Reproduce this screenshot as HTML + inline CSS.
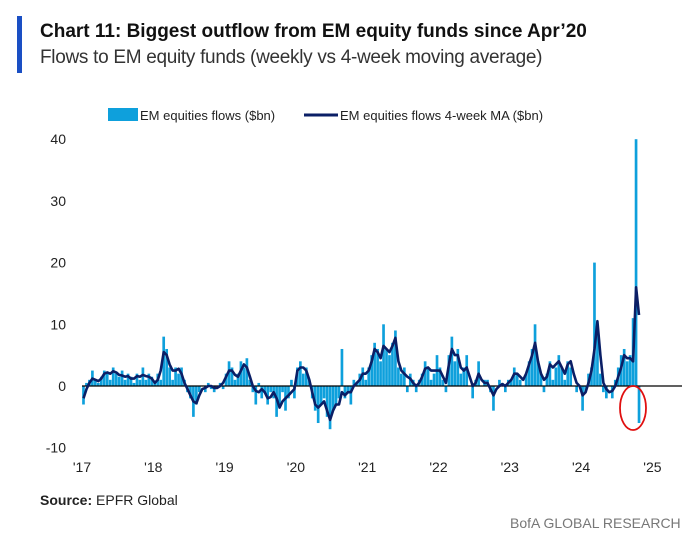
<!DOCTYPE html>
<html><head><meta charset="utf-8"><style>
body{margin:0;background:#fff;font-family:"Liberation Sans",sans-serif;}
#wrap{position:relative;width:695px;height:546px;overflow:hidden;background:#fff}
.t{position:absolute;white-space:nowrap}
</style></head><body>
<div id="wrap">
<div class="t" style="left:17px;top:16px;width:5px;height:57px;background:#1a4fc4"></div>
<div class="t" style="left:40px;top:21px;font-size:19px;font-weight:bold;color:#111;letter-spacing:0px">Chart 11: Biggest outflow from EM equity funds since Apr’20</div>
<div class="t" style="left:40px;top:47px;font-size:19px;color:#333;letter-spacing:-0.3px">Flows to EM equity funds (weekly vs 4-week moving average)</div>
<div class="t" style="left:40px;top:492px;font-size:14px;color:#222"><b>Source:</b> EPFR Global</div>
<div class="t" style="left:510px;top:515px;font-size:14px;color:#777">BofA GLOBAL RESEARCH</div>
<svg id="chart" width="695" height="546" style="position:absolute;left:0;top:0"></svg>
</div>
<script>
const years=["'17","'18","'19","'20","'21","'22","'23","'24","'25"];
const yTicks=[-10,0,10,20,30,40];
const flows=[-3,0.5,1,2.5,1,0.5,1.5,2.5,2,1,3,2,1.5,2.5,1,2,1.5,0.5,2,1,3,1,2,1.5,
0.5,2,1,8,6,3,1,3,2,3,1,-1,-2,-5,-3,-1,0,-1,0.5,-0.5,-1,0,0.5,-0.5,
2,4,3,1,2,4,3,4.5,1,-1,-3,0.5,-2,-1,-3,-1,-2,-5,-3,-1,-4,-2,1,-2,
3,4,2,3,1,-2,-4,-6,-3,-2,-5,-7,-4,-3,-2,6,-2,-1,-3,1,0.5,2,3,1,
3,5,7,6,4,10,6,5,7,9,3,2,3,-1,2,1,-1,1,2,4,3,1,2,5,
3,1,-1,5,8,4,6,2,3,5,0,-2,1,4,0,1,1,-1,-4,0,1,0.5,-1,1,
1,3,2,1,0,2,4,6,10,4,2,-1,2,4,1,3,5,3,1,4,3,0,-1,0,
-4,-1,2,3,20,9,2,-1,-2,0,-2,1,3,5,6,4,5,11,40,-6];
const ma=[-2,-0.5,0.5,1.2,1,0.8,1.2,2,2.2,2,2.4,2.2,1.8,1.7,1.5,1.6,1.2,1.2,1.6,1.5,1.8,1.6,1.5,1.2,
0.5,1,2.5,5.5,5,3.5,2.5,2.5,2.8,2,0.5,-0.5,-1.5,-2.5,-2.8,-1.5,-0.5,-0.3,0,0,-0.3,-0.3,0,0.5,
1.5,2.5,2.5,1.8,1.5,2.5,3.5,3,1.5,0,-0.8,-1,-0.5,-1,-2,-1.8,-1,-2,-3.5,-2.5,-2,-1.5,-1,-0.5,
2.5,3,3,2.5,1,-1,-3,-3.5,-3,-2.5,-4,-5.5,-4,-3,-3,-1,-1.5,-1,-1,0,0.5,1,2,2,
2.5,4,6,5.5,4.5,6.5,6,5.5,6.5,7.8,4,2.5,2,1.5,1.2,0.5,0,0.5,1.5,2.8,3,2.5,2.5,2.5,
2.5,1.5,0.5,3.5,6,5,5,3,2.5,3,1.5,0,0.5,2,1,0.5,0.5,-0.5,-1.5,-0.5,0,0.3,0,0.5,
1,2,2,1.5,1,2,3.5,5,7,4,2,1,1.5,3.5,3,3.5,4,3,2,3.5,4,2,0.5,0,
-1.5,-1,0.5,2.5,6,10.5,5,0.5,-0.5,-1,-0.8,0,1.5,3,5,4.5,4.5,4,16,11.5];
const NS="http://www.w3.org/2000/svg";
const svg=document.getElementById('chart');
const x0=82,yrW=71.3,perYr=24;
const xS=t=>x0+t*yrW;
const yS=v=>386-v*6.17;
function mk(tag,attrs){const e=document.createElementNS(NS,tag);for(const k in attrs)e.setAttribute(k,attrs[k]);svg.appendChild(e);return e;}
let l1=mk('rect',{x:108,y:108,width:30,height:13,fill:'#0ea0dc'});


let lt1=mk('text',{x:140,y:120,'font-size':13,fill:'#222','font-family':'Liberation Sans, sans-serif'});lt1.textContent='EM equities flows ($bn)';


let l2=mk('line',{x1:304,x2:338,y1:115,y2:115,stroke:'#0b1f66','stroke-width':3});


let lt2=mk('text',{x:340,y:120,'font-size':13,fill:'#222','font-family':'Liberation Sans, sans-serif'});lt2.textContent='EM equities flows 4-week MA ($bn)';


yTicks.forEach(v=>{const t=mk('text',{x:66,y:yS(v)+5,'font-size':14,fill:'#222','text-anchor':'end','font-family':'Liberation Sans, sans-serif'});t.textContent=v;

});
years.forEach((s,i)=>{const t=mk('text',{x:xS(i),y:472,'font-size':14,fill:'#222','text-anchor':'middle','font-family':'Liberation Sans, sans-serif'});t.textContent=s;

});
const step=yrW/perYr;
flows.forEach((v,i)=>{const x=xS((i+0.5)/perYr);const y=yS(Math.max(v,0)),h=Math.abs(yS(v)-yS(0));
const b=mk('rect',{x:x-step*0.45,y:y,width:step*0.9,height:Math.max(h,0.5),fill:'#0ea0dc'});

});
const z=mk('line',{x1:x0,x2:682,y1:yS(0),y2:yS(0),stroke:'#000','stroke-width':1.2});


const pts=ma.map((v,i)=>xS((i+0.5)/perYr).toFixed(1)+','+yS(v).toFixed(1)).join(' ');
const pl=mk('polyline',{points:pts,fill:'none',stroke:'#0b1f66','stroke-width':2.6,'stroke-linejoin':'round'});


const el=mk('ellipse',{cx:633,cy:408,rx:13,ry:22,fill:'none',stroke:'#e01010','stroke-width':1.8});


</script>
</body></html>
